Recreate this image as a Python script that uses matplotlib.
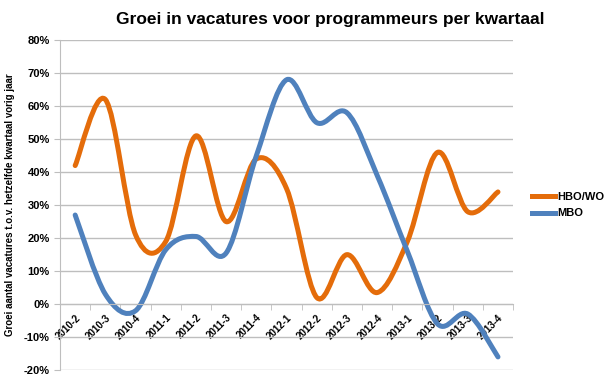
import numpy as np
import matplotlib
matplotlib.use("Agg")
import matplotlib.pyplot as plt
from matplotlib.path import Path
from matplotlib.patches import PathPatch
from matplotlib.ticker import FuncFormatter, FixedLocator

quarters = ["2010-2", "2010-3", "2010-4", "2011-1", "2011-2", "2011-3", "2011-4",
            "2012-1", "2012-2", "2012-3", "2012-4", "2013-1", "2013-2", "2013-3", "2013-4"]
hbo_wo = [42, 62, 21, 19, 51, 25, 44, 35, 2, 15, 3.5, 19, 46, 28, 34]
mbo = [27, 3, -2, 16.5, 20.5, 15.5, 45, 68, 55, 58, 39, 16, -6, -3, -16]

colors = {"HBO/WO": "#E46C0A", "MBO": "#4F81BD"}

plt.rcParams['font.family'] = ['Liberation Sans', 'DejaVu Sans']


def smooth_path(x, y):
    # Excel-like smoothed line: cubic bezier segments (Catmull-Rom control points)
    pts = np.column_stack([x, y]).astype(float)
    n = len(pts)
    verts = [pts[0]]
    codes = [Path.MOVETO]
    for i in range(n - 1):
        p0 = pts[i - 1] if i > 0 else pts[i]
        p1 = pts[i]
        p2 = pts[i + 1]
        p3 = pts[i + 2] if i + 2 < n else pts[i + 1]
        c1 = p1 + (p2 - p0) / 6.0
        c2 = p2 - (p3 - p1) / 6.0
        verts += [c1, c2, p2]
        codes += [Path.CURVE4] * 3
    return Path(verts, codes)


fig = plt.figure(figsize=(6.13, 3.9), dpi=100)
ax = fig.add_axes([0.098, 0.051, 0.739, 0.846])

x = np.arange(len(quarters))
for name, vals in [("HBO/WO", hbo_wo), ("MBO", mbo)]:
    patch = PathPatch(smooth_path(x, vals), facecolor="none", edgecolor=colors[name],
                      lw=3.6, capstyle="round", joinstyle="round")
    ax.add_patch(patch)
    ax.plot([], [], color=colors[name], lw=3.6, label=name)

ax.set_xlim(-0.5, len(quarters) - 0.5)
ax.set_ylim(-20, 80)
ax.set_yticks(np.arange(-20, 81, 10))
ax.yaxis.set_major_formatter(FuncFormatter(lambda v, p: "%d%%" % v))
ax.grid(axis="y", color="#BEBEBE", lw=1)
ax.set_axisbelow(True)

ax.spines["top"].set_visible(False)
ax.spines["right"].set_visible(False)
ax.spines["left"].set_color("#BEBEBE")
ax.spines["bottom"].set_color("#BEBEBE")
ax.spines["bottom"].set_position(("data", 0))

ax.set_xticks(x)
ax.set_xticklabels(quarters, rotation=45, ha="right", rotation_mode="anchor",
                   fontsize=7, fontweight="bold")
ax.tick_params(axis="x", which="major", length=0, pad=6)
ax.xaxis.set_minor_locator(FixedLocator(np.arange(-0.5, len(quarters), 1.0)))
ax.tick_params(axis="x", which="minor", length=4, color="#BEBEBE")
ax.tick_params(axis="y", length=4, color="#BEBEBE", labelsize=8)
for lab in ax.get_yticklabels():
    lab.set_fontweight("bold")

ax.set_ylabel("Groei aantal vacatures t.o.v. hetzelfde kwartaal vorig jaar",
              fontsize=7, fontweight="bold", labelpad=6)
fig.suptitle("Groei in vacatures voor programmeurs per kwartaal", x=0.538, y=0.968,
             fontsize=12.5, fontweight="bold")

leg = ax.legend(loc="center left", bbox_to_anchor=(1.02, 0.5), frameon=False,
                prop={"size": 8, "weight": "bold"}, handlelength=2.1, handletextpad=0.15,
                labelspacing=0.6)

fig.savefig("out.png", dpi=100)
